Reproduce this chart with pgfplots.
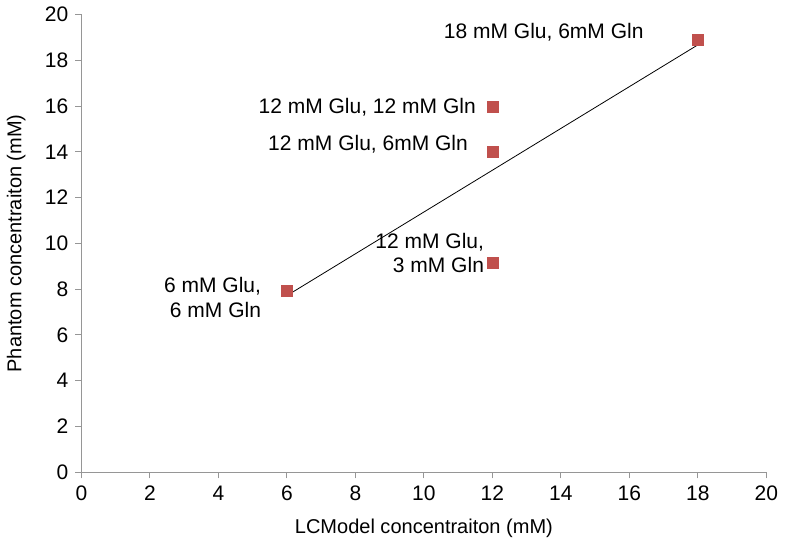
\documentclass[border=0pt]{standalone}
\usepackage{pgfplots}
\pgfplotsset{compat=1.18}
\usepackage{fontspec}
\setmainfont{Liberation Sans}
\definecolor{mk}{RGB}{192,80,77}
\definecolor{ax}{RGB}{150,150,150}
\begin{document}
\fontsize{21}{25}\selectfont
\begin{tikzpicture}
\begin{axis}[
  scale only axis,
  width=682bp, height=456bp,
  xmin=0, xmax=20, ymin=0, ymax=20,
  xtick={0,2,...,20}, ytick={0,2,...,20},
  axis lines=left,
  axis line style={ax, line width=1pt, -},
  tick style={ax, line width=1pt},
  major tick length=6bp,
  tick align=outside,
  /pgf/number format/assume math mode=true,
  ticklabel style={font=\fontsize{21}{25}\selectfont},
  label style={font=\fontsize{20}{24}\selectfont},
  xlabel={LCModel concentraiton (mM)},
  ylabel={Phantom concentraiton (mM)},
  xlabel style={yshift=-4bp},
  ylabel style={yshift=5bp},
  clip=false,
]
\addplot[black, line width=0.8pt, forget plot] coordinates {(6,7.72) (18,18.67)};
\addplot[only marks, mark=square*, mark size=5.5bp, mark options={fill=mk, draw=mk}] coordinates {
(6,7.95) (12,9.17) (12,13.99) (12,15.96) (18,18.9)};
\node[anchor=east, align=right, inner sep=0, font=\fontsize{21}{25}\selectfont] at (axis cs:5.25,7.63) {6 mM Glu,\\6 mM Gln};
\node[anchor=east, align=right, inner sep=0, font=\fontsize{21}{24}\selectfont] at (axis cs:11.76,9.56) {12 mM Glu,\\3 mM Gln};
\node[anchor=east, inner sep=0] at (axis cs:11.29,14.34) {12 mM Glu, 6mM Gln};
\node[anchor=east, inner sep=0] at (axis cs:11.52,15.96) {12 mM Glu, 12 mM Gln};
\node[anchor=east, inner sep=0] at (axis cs:16.42,19.21) {18 mM Glu, 6mM Gln};
\end{axis}
\end{tikzpicture}
\end{document}
